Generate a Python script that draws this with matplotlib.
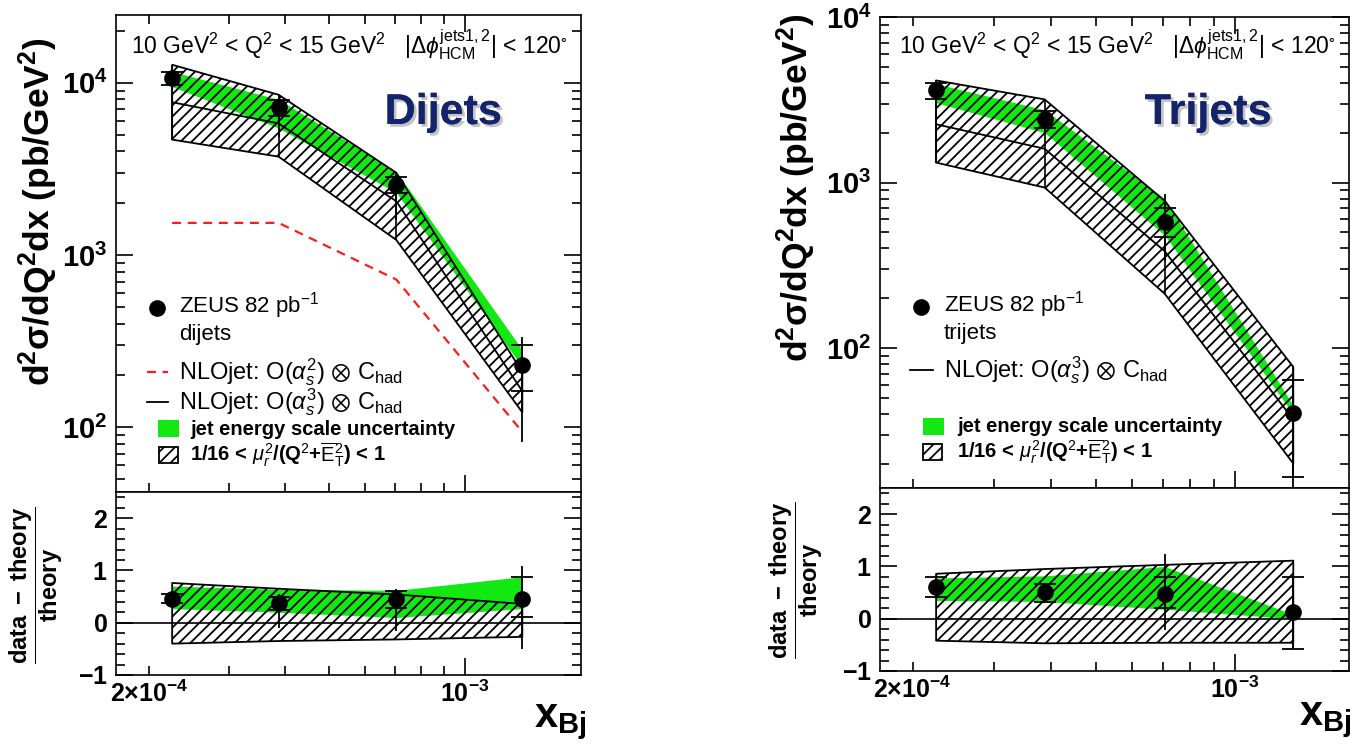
import numpy as np
import matplotlib
matplotlib.use("Agg")
import matplotlib.pyplot as plt
from matplotlib.patches import Rectangle
import matplotlib.patheffects as pe
from matplotlib.lines import Line2D
from matplotlib.ticker import (LogLocator, FixedLocator, MultipleLocator,
                               FuncFormatter, NullFormatter)

plt.rcParams['font.family'] = ['Liberation Sans', 'DejaVu Sans']
plt.rcParams['mathtext.fontset'] = 'custom'
plt.rcParams['mathtext.rm'] = 'Liberation Sans'
plt.rcParams['mathtext.it'] = 'Liberation Sans:italic'
plt.rcParams['mathtext.bf'] = 'Liberation Sans:bold'
plt.rcParams['mathtext.fallback'] = 'stixsans'
plt.rcParams['hatch.linewidth'] = 1.3

# ---------------- data ----------------
x_bj = [2.25e-4, 3.87e-4, 7.05e-4, 1.34e-3]

# Dijets, cross section
dj_data = [10700, 7250, 2550, 229]
dj_stat_lo = [9700, 6400, 2290, 162]
dj_stat_hi = [11600, 7950, 2840, 300]
dj_tot_lo = [9300, 4850, 1600, 82]
dj_tot_hi = [11800, 8400, 2900, 333]
dj_nlo3 = [7700, 5800, 2050, 162]
dj_nlo3_up = [12700, 8510, 3000, 209]
dj_nlo3_dn = [4670, 3720, 1222, 122]
dj_nlo2 = [1535, 1535, 720, 94]
dj_jes_up = [11600, 8000, 3050, 281]
dj_jes_dn = [9480, 5450, 2300, 224]
# Dijets, (data-theory)/theory
dj_r = [0.46, 0.37, 0.46, 0.46]
dj_r_stat_lo = [0.38, 0.25, 0.29, 0.10]
dj_r_stat_hi = [0.54, 0.50, 0.61, 0.88]
dj_r_tot_lo = [0.36, -0.10, -0.15, -0.50]
dj_r_tot_hi = [0.56, 0.55, 0.65, 1.09]
dj_r_scale_up = [0.76, 0.65, 0.54, 0.36]
dj_r_scale_dn = [-0.40, -0.35, -0.32, -0.27]
dj_r_jes_up = [0.70, 0.64, 0.62, 0.88]
dj_r_jes_dn = [0.27, 0.20, 0.10, 0.27]

# Trijets, cross section
tj_data = [3600, 2410, 574, 40.3]
tj_stat_lo = [3180, 2140, 467, 16.7]
tj_stat_hi = [4000, 2700, 706, 64.6]
tj_tot_lo = [3180, 2100, 338, 12]
tj_tot_hi = [4000, 2750, 851, 64.6]
tj_nlo3 = [2250, 1600, 385, 37]
tj_nlo3_up = [4140, 3180, 774, 77]
tj_nlo3_dn = [1320, 933, 213, 20.1]
tj_jes_up = [3950, 2750, 800, 45]
tj_jes_dn = [3035, 2000, 480, 40]
# Trijets, (data-theory)/theory
tj_r = [0.60, 0.51, 0.48, 0.13]
tj_r_stat_lo = [0.41, 0.32, 0.21, -0.57]
tj_r_stat_hi = [0.79, 0.67, 0.79, 0.79]
tj_r_tot_lo = [0.41, 0.30, -0.22, -0.57]
tj_r_tot_hi = [0.79, 0.67, 1.24, 0.79]
tj_r_scale_up = [0.86, 0.95, 1.03, 1.11]
tj_r_scale_dn = [-0.42, -0.47, -0.46, -0.46]
tj_r_jes_up = [0.78, 0.82, 1.00, 0.08]
tj_r_jes_dn = [0.35, 0.33, 0.18, 0.00]

# -------------- layout helpers --------------
W, H = 1355, 753
fig = plt.figure(figsize=(W / 100, H / 100), dpi=100)
GREEN = '#12e812'
NAVY = '#13246b'
HATCH = '///'


def add_ax(x0, y0, x1, y1):
    return fig.add_axes([x0 / W, 1 - y1 / H, (x1 - x0) / W, (y1 - y0) / H])


def ftext(x, y, s, **kw):
    return fig.text(x / W, 1 - y / H, s, **kw)


def style_axes(ax, top_ticks=True):
    for sp in ax.spines.values():
        sp.set_linewidth(1.2)
    ax.tick_params(which='both', direction='in', top=top_ticks, right=True,
                   width=1.2)
    ax.tick_params(which='major', length=12)
    ax.tick_params(which='minor', length=6.5)


def logx(ax, xlim):
    ax.set_xscale('log')
    ax.set_xlim(*xlim)
    ax.xaxis.set_major_locator(FixedLocator([1e-3]))
    ax.xaxis.set_minor_locator(LogLocator(base=10, subs=np.arange(2, 10), numticks=20))


def top_panel(ax, xlim, ylim, data, slo, shi, tlo, thi, c, cup, cdn, jup, jdn, nlo2=None):
    ax.set_yscale('log')
    logx(ax, xlim)
    ax.set_ylim(*ylim)
    ax.fill_between(x_bj, jdn, jup, color=GREEN, lw=0, zorder=1)
    ax.fill_between(x_bj, cdn, cup, facecolor='none', edgecolor='black',
                    hatch=HATCH, lw=1.3, zorder=2)
    ax.vlines(x_bj, cdn, cup, color='black', lw=1.2, zorder=2)
    ax.plot(x_bj, c, color='black', lw=1.3, zorder=3)
    if nlo2 is not None:
        ax.plot(x_bj, nlo2, color='#ff1a1a', lw=1.6, ls=(0, (4, 3)), zorder=3)
    ax.vlines(x_bj, tlo, thi, color='black', lw=1.3, zorder=4)
    d = np.array(data)
    ax.errorbar(x_bj, d, yerr=[d - np.array(slo), np.array(shi) - d], fmt='o',
                color='black', ms=11, capsize=8, elinewidth=1.3, capthick=1.3, zorder=5)
    style_axes(ax)
    ax.yaxis.set_major_locator(LogLocator(base=10, numticks=10))
    ax.yaxis.set_minor_locator(LogLocator(base=10, subs=np.arange(2, 10), numticks=20))
    ax.yaxis.set_major_formatter(FuncFormatter(
        lambda v, p: r'$\mathbf{10^{%d}}$' % int(round(np.log10(v)))))
    ax.yaxis.set_minor_formatter(NullFormatter())
    ax.tick_params(axis='y', labelsize=21, pad=6)
    ax.xaxis.set_major_formatter(NullFormatter())
    ax.xaxis.set_minor_formatter(NullFormatter())


def ratio_panel(ax, xlim, r, slo, shi, tlo, thi, sup, sdn, jup, jdn):
    logx(ax, xlim)
    ax.set_ylim(-1, 2.5)
    ax.fill_between(x_bj, jdn, jup, color=GREEN, lw=0, zorder=1)
    ax.fill_between(x_bj, sdn, sup, facecolor='none', edgecolor='black',
                    hatch=HATCH, lw=1.3, zorder=2)
    ax.axhline(0, color='black', lw=1.2, zorder=3)
    ax.vlines(x_bj, tlo, thi, color='black', lw=1.3, zorder=4)
    rr = np.array(r)
    ax.errorbar(x_bj, rr, yerr=[rr - np.array(slo), np.array(shi) - rr], fmt='o',
                color='black', ms=11, capsize=8, elinewidth=1.3, capthick=1.3, zorder=5)
    style_axes(ax, top_ticks=False)
    ax.yaxis.set_major_locator(FixedLocator([-1, 0, 1, 2]))
    ax.yaxis.set_minor_locator(MultipleLocator(0.2))
    ax.yaxis.set_major_formatter(FuncFormatter(lambda v, p: r'$\mathbf{%d}$' % int(round(v))))
    ax.tick_params(axis='y', labelsize=18, pad=6)
    ax.xaxis.set_major_formatter(FuncFormatter(lambda v, p: r'$\mathbf{10^{-3}}$'))
    ax.xaxis.set_minor_formatter(FuncFormatter(
        lambda v, p: r'$\mathbf{2{\times}10^{-4}}$' if abs(v - 2e-4) < 1e-6 else ''))
    ax.tick_params(axis='x', which='both', labelsize=18, pad=4)


def legend_marker(x, y):
    fig.add_artist(Line2D([x / W], [1 - y / H], marker='o', color='black', ms=11,
                          transform=fig.transFigure))


def legend_line(x0, x1, y, **kw):
    fig.add_artist(Line2D([x0 / W, x1 / W], [1 - y / H, 1 - y / H],
                          transform=fig.transFigure, **kw))


def legend_box(x0, y0, x1, y1, **kw):
    fig.add_artist(Rectangle((x0 / W, 1 - y1 / H), (x1 - x0) / W, (y1 - y0) / H,
                             transform=fig.transFigure, **kw))


cut_text = (r'10 GeV$^2$ < Q$^2$ < 15 GeV$^2$   '
            r'$|\Delta\phi^{\mathrm{jets1,2}}_{\mathrm{HCM}}|$ < 120$^{\circ}$')
ylab = r'$\mathbf{d^2\sigma/dQ^2dx\ (pb/GeV^2)}$'
rlab = r'$\dfrac{\mathbf{data\ -\ theory}}{\mathbf{theory}}$'
nlo2_lab = r'NLOjet: O($\alpha_s^2$) $\otimes$ C$_{\mathrm{had}}$'
nlo3_lab = r'NLOjet: O($\alpha_s^3$) $\otimes$ C$_{\mathrm{had}}$'
jes_lab = 'jet energy scale uncertainty'
scale_lab = r'1/16 < $\mu_r^2$/(Q$^2$+$\overline{\mathrm{E}}_{\mathrm{T}}^2$) < 1'
shadow = [pe.withSimplePatchShadow(offset=(2, -2), shadow_rgbFace='#888888', alpha=0.5),
          pe.Normal()]

# ================= Dijets =================
axA = add_ax(116, 15, 581, 492)
top_panel(axA, (1.69e-4, 1.807e-3), (42.1, 24700), dj_data, dj_stat_lo, dj_stat_hi,
          dj_tot_lo, dj_tot_hi, dj_nlo3, dj_nlo3_up, dj_nlo3_dn, dj_jes_up, dj_jes_dn,
          nlo2=dj_nlo2)
axB = add_ax(116, 492, 581, 675)
ratio_panel(axB, (1.69e-4, 1.807e-3), dj_r, dj_r_stat_lo, dj_r_stat_hi, dj_r_tot_lo,
            dj_r_tot_hi, dj_r_scale_up, dj_r_scale_dn, dj_r_jes_up, dj_r_jes_dn)

ftext(349, 45, cut_text, fontsize=16.5, ha='center', va='center')
ftext(443, 113, 'Dijets', fontsize=31, fontweight='bold', color=NAVY,
      ha='center', va='center', path_effects=shadow)
ftext(38, 212, ylab, fontsize=25.5, rotation=90, ha='center', va='center')
ftext(36, 585, rlab, fontsize=17, rotation=90, ha='center', va='center')
ftext(560, 722, r'$\mathbf{x}_{\mathbf{Bj}}$', fontsize=30, ha='center', va='center')

legend_marker(157, 308)
ftext(179, 306, r'ZEUS 82 pb$^{-1}$', fontsize=16, va='center')
ftext(179, 334, 'dijets', fontsize=16, va='center')
legend_line(147, 168, 372, color='#ff1a1a', lw=1.6, ls=(0, (4, 3)))
ftext(179, 372, nlo2_lab, fontsize=17, va='center')
legend_line(147, 168, 402, color='black', lw=1.3)
ftext(179, 402, nlo3_lab, fontsize=17, va='center')
legend_box(158, 420, 179, 437, facecolor=GREEN, edgecolor='none')
ftext(190, 429, jes_lab, fontsize=14.5, va='center', fontweight='bold')
legend_box(159, 447, 178, 463, facecolor='none', edgecolor='black', hatch=HATCH, lw=1.3)
ftext(190, 455, scale_lab, fontsize=14.5, va='center', fontweight='bold')

# ================= Trijets =================
axC = add_ax(880, 17, 1349, 488)
top_panel(axC, (1.70e-4, 1.77e-3), (14.3, 1.0e4), tj_data, tj_stat_lo, tj_stat_hi,
          tj_tot_lo, tj_tot_hi, tj_nlo3, tj_nlo3_up, tj_nlo3_dn, tj_jes_up, tj_jes_dn)
axD = add_ax(880, 488, 1349, 671)
ratio_panel(axD, (1.70e-4, 1.77e-3), tj_r, tj_r_stat_lo, tj_r_stat_hi, tj_r_tot_lo,
            tj_r_tot_hi, tj_r_scale_up, tj_r_scale_dn, tj_r_jes_up, tj_r_jes_dn)

ftext(1117, 45, cut_text, fontsize=16.5, ha='center', va='center')
ftext(1208, 113, 'Trijets', fontsize=31, fontweight='bold', color=NAVY,
      ha='center', va='center', path_effects=shadow)
ftext(796, 188, ylab, fontsize=25.5, rotation=90, ha='center', va='center')
ftext(796, 580, rlab, fontsize=17, rotation=90, ha='center', va='center')
ftext(1325, 720, r'$\mathbf{x}_{\mathbf{Bj}}$', fontsize=30, ha='center', va='center')

legend_marker(921, 307)
ftext(944, 305, r'ZEUS 82 pb$^{-1}$', fontsize=16, va='center')
ftext(944, 333, 'trijets', fontsize=16, va='center')
legend_line(910, 933, 370, color='black', lw=1.3)
ftext(944, 370, nlo3_lab, fontsize=17, va='center')
legend_box(923, 418, 944, 435, facecolor=GREEN, edgecolor='none')
ftext(957, 426, jes_lab, fontsize=14.5, va='center', fontweight='bold')
legend_box(923, 444, 942, 460, facecolor='none', edgecolor='black', hatch=HATCH, lw=1.3)
ftext(957, 452, scale_lab, fontsize=14.5, va='center', fontweight='bold')

fig.savefig('out.png', dpi=100)
